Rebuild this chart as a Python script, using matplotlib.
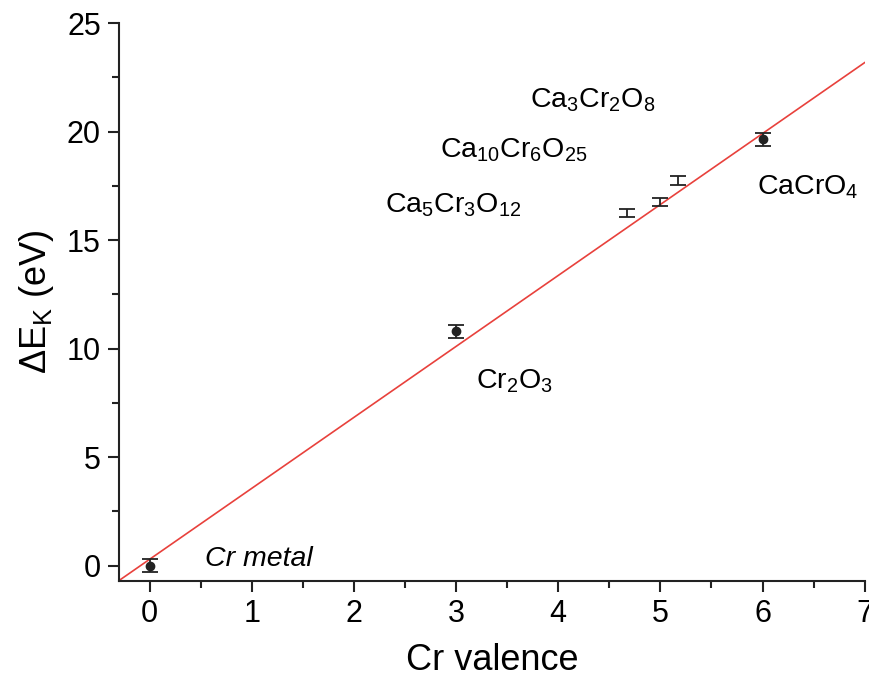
import numpy as np
import matplotlib.pyplot as plt
from matplotlib.ticker import MultipleLocator

plt.rcParams['font.family'] = ['Liberation Sans', 'DejaVu Sans']
plt.rcParams['mathtext.fontset'] = 'custom'
plt.rcParams['mathtext.rm'] = 'Liberation Sans'
plt.rcParams['mathtext.it'] = 'Liberation Sans:italic'

# Cr K-edge shift vs formal valence
valence = [0, 3, 4.67, 5.0, 5.17, 6]
shift = [0.0, 10.8, 16.25, 16.75, 17.75, 19.65]
shift_err = [0.3, 0.3, 0.2, 0.2, 0.2, 0.3]
has_marker = [True, True, False, False, False, True]

# linear fit
fit_slope = 3.27
fit_intercept = 0.29

fig, ax = plt.subplots(figsize=(8.69, 6.8), dpi=100)
fig.subplots_adjust(left=0.137, right=0.995, top=0.966, bottom=0.146)

xs = np.array([-0.3, 7.0])
ax.plot(xs, fit_slope * xs + fit_intercept, color='#e8413c', lw=1.2, zorder=2)

for x, y, e, m in zip(valence, shift, shift_err, has_marker):
    ax.errorbar(x, y, yerr=e, fmt='o' if m else 'none', color='#222222',
                ms=6, capsize=6, elinewidth=1.3, capthick=1.3, zorder=3)

labels = [
    (0.54, 0.3, 'Cr metal', 'italic'),
    (3.19, 8.5, r'Cr$_2$O$_3$', 'normal'),
    (2.30, 16.6, r'Ca$_5$Cr$_3$O$_{12}$', 'normal'),
    (2.84, 19.15, r'Ca$_{10}$Cr$_6$O$_{25}$', 'normal'),
    (3.72, 21.45, r'Ca$_3$Cr$_2$O$_8$', 'normal'),
    (5.95, 17.45, r'CaCrO$_4$', 'normal'),
]
for x, y, s, style in labels:
    ax.text(x, y, s, fontsize=20.5, style=style, ha='left', va='center')

ax.set_xlim(-0.3, 7)
ax.set_ylim(-0.7, 25)
ax.xaxis.set_major_locator(MultipleLocator(1))
ax.xaxis.set_minor_locator(MultipleLocator(0.5))
ax.yaxis.set_major_locator(MultipleLocator(5))
ax.yaxis.set_minor_locator(MultipleLocator(2.5))
ax.tick_params(which='both', direction='out', width=1.5, labelsize=22, color='#222222')
ax.tick_params(which='major', length=8, pad=5)
ax.tick_params(which='minor', length=5)
for side in ['top', 'right']:
    ax.spines[side].set_visible(False)
for side in ['left', 'bottom']:
    ax.spines[side].set_linewidth(1.5)
    ax.spines[side].set_color('#222222')

ax.set_xlabel('Cr valence', fontsize=26, labelpad=10)
ax.set_ylabel(r'$\Delta$E$_{\rm K}$ (eV)', fontsize=26, labelpad=8)

fig.savefig('out.png', dpi=100)
